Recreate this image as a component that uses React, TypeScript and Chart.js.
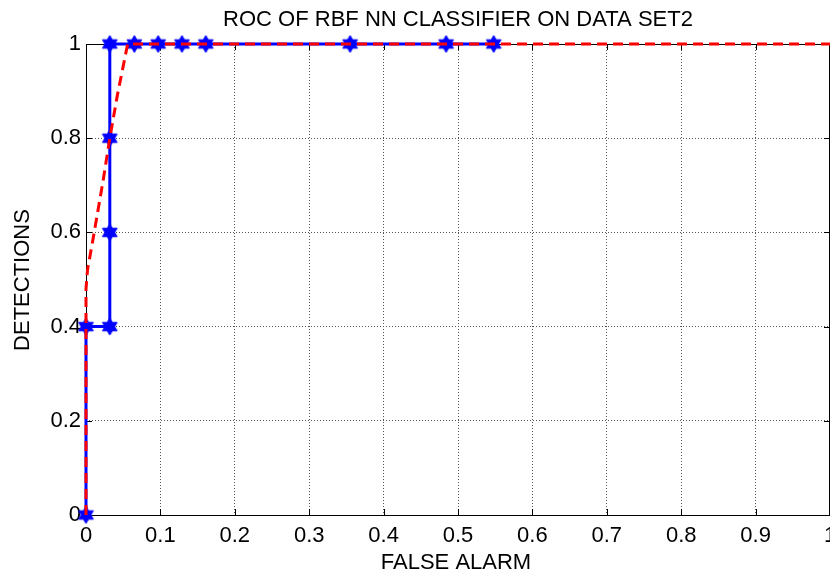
import React, { useEffect, useRef } from 'react';
import { Chart, registerables } from 'chart.js';

Chart.register(...registerables);

const titleText = 'ROC OF RBF NN CLASSIFIER ON DATA SET2';
const xAxisLabel = 'FALSE ALARM';
const yAxisLabel = 'DETECTIONS';

const xTickValues = [0, 0.1, 0.2, 0.3, 0.4, 0.5, 0.6, 0.7, 0.8, 0.9, 1];
const xTickLabels = ['0', '0.1', '0.2', '0.3', '0.4', '0.5', '0.6', '0.7', '0.8', '0.9', '1'];
const yTickValues = [0, 0.2, 0.4, 0.6, 0.8, 1];
const yTickLabels = ['0', '0.2', '0.4', '0.6', '0.8', '1'];

// Empirical ROC (blue, hexagram markers)
const rocX = [0, 0, 0.032, 0.032, 0.032, 0.032, 0.065, 0.097, 0.129, 0.161, 0.355, 0.484, 0.548];
const rocY = [0, 0.4, 0.4, 0.6, 0.8, 1, 1, 1, 1, 1, 1, 1, 1];

// Fitted ROC (red dashed)
const fitX = [0, 0, 0.002, 0.011, 0.023, 0.032, 0.042, 0.056, 1];
const fitY = [0, 0.48, 0.52, 0.6, 0.71, 0.8, 0.89, 1, 1];

const FONT = '"Liberation Sans", Arial, sans-serif';

function makeHexagram(r: number, color: string): HTMLCanvasElement {
  const s = Math.ceil(r * 2 + 4);
  const c = document.createElement('canvas');
  c.width = s;
  c.height = s;
  const g = c.getContext('2d')!;
  const cx = s / 2;
  const cy = s / 2;
  const tri = (rot: number) => {
    g.beginPath();
    for (let i = 0; i < 3; i++) {
      const a = rot + (i * 2 * Math.PI) / 3;
      const px = cx + r * Math.cos(a);
      const py = cy + r * Math.sin(a);
      if (i === 0) g.moveTo(px, py);
      else g.lineTo(px, py);
    }
    g.closePath();
  };
  g.fillStyle = color;
  g.strokeStyle = color;
  g.lineWidth = 1;
  tri(-Math.PI / 2);
  g.fill();
  g.stroke();
  tri(Math.PI / 2);
  g.fill();
  g.stroke();
  return c;
}

export default function App() {
  const ref = useRef<HTMLCanvasElement | null>(null);

  useEffect(() => {
    if (!ref.current) return;
    const marker = makeHexagram(8.5, '#0000ff');

    const decor = {
      id: 'decor',
      beforeDatasetsDraw(chart: any) {
        const { ctx, chartArea } = chart;
        const { left, right, top, bottom } = chartArea;
        const xs = chart.scales.x;
        const ys = chart.scales.y;
        ctx.save();
        ctx.strokeStyle = '#000';
        ctx.lineWidth = 1;
        ctx.beginPath();
        ctx.rect(Math.round(left) + 0.5, Math.round(top) + 0.5, Math.round(right) - Math.round(left) - 1, Math.round(bottom) - Math.round(top));
        ctx.stroke();
        ctx.beginPath();
        xTickValues.forEach((v) => {
          const px = Math.round(xs.getPixelForValue(v)) + 0.5;
          ctx.moveTo(px, bottom);
          ctx.lineTo(px, bottom - 6);
          ctx.moveTo(px, top);
          ctx.lineTo(px, top + 6);
        });
        yTickValues.forEach((v) => {
          const py = Math.round(ys.getPixelForValue(v)) + 0.5;
          ctx.moveTo(left, py);
          ctx.lineTo(left + 6, py);
          ctx.moveTo(right, py);
          ctx.lineTo(right - 6, py);
        });
        ctx.stroke();
        ctx.restore();
      },
      afterDraw(chart: any) {
        const { ctx } = chart;
        ctx.save();
        ctx.fillStyle = '#000';
        ctx.textAlign = 'center';
        ctx.textBaseline = 'middle';
        ctx.font = `22px ${FONT}`;
        ctx.fillText(titleText, 458, 20);
        ctx.fillText(xAxisLabel, 456, 563);
        ctx.translate(23, 280);
        ctx.rotate(-Math.PI / 2);
        ctx.fillText(yAxisLabel, 0, 0);
        ctx.restore();
      },
    };

    const chart = new Chart(ref.current, {
      type: 'line',
      data: {
        datasets: [
          {
            label: 'Fitted ROC',
            data: fitX.map((x, i) => ({ x, y: fitY[i] })),
            borderColor: '#ff0000',
            borderWidth: 3,
            borderDash: [10, 6],
            pointRadius: 0,
            tension: 0,
            fill: false,
            clip: false as any,
            order: 0,
          },
          {
            label: 'ROC',
            data: rocX.map((x, i) => ({ x, y: rocY[i] })),
            borderColor: '#0000ff',
            borderWidth: 3,
            pointStyle: marker as any,
            pointRadius: 8,
            pointBackgroundColor: '#0000ff',
            tension: 0,
            fill: false,
            clip: false as any,
            order: 1,
          },
        ],
      },
      options: {
        animation: false,
        responsive: false,
        maintainAspectRatio: false,
        layout: { autoPadding: false, padding: { top: 44, left: 0, right: 0, bottom: 0 } },
        plugins: {
          legend: { display: false },
          tooltip: { enabled: false },
          title: { display: false },
        },
        scales: {
          x: {
            type: 'linear',
            min: 0,
            max: 1,
            afterBuildTicks: (scale: any) => {
              scale.ticks = xTickValues.map((v) => ({ value: v }));
            },
            afterFit: (scale: any) => {
              scale.height = 58;
              scale.paddingLeft = 0;
              scale.paddingRight = 0;
            },
            ticks: {
              autoSkip: false,
              maxRotation: 0,
              padding: 8,
              color: '#000',
              font: { family: FONT, size: 22 },
              callback: (v: any) => {
                const i = xTickValues.findIndex((t) => Math.abs(t - Number(v)) < 1e-6);
                return i >= 0 ? xTickLabels[i] : '';
              },
            },
            grid: { color: '#555', lineWidth: 1, drawTicks: false },
            border: { display: false, dash: [1, 2] },
          },
          y: {
            type: 'linear',
            min: 0,
            max: 1,
            afterBuildTicks: (scale: any) => {
              scale.ticks = yTickValues.map((v) => ({ value: v }));
            },
            afterFit: (scale: any) => {
              scale.width = 86;
              scale.paddingTop = 0;
              scale.paddingBottom = 0;
            },
            ticks: {
              autoSkip: false,
              padding: 5,
              color: '#000',
              font: { family: FONT, size: 22 },
              callback: (v: any) => {
                const i = yTickValues.findIndex((t) => Math.abs(t - Number(v)) < 1e-6);
                return i >= 0 ? yTickLabels[i] : '';
              },
            },
            grid: { color: '#555', lineWidth: 1, drawTicks: false },
            border: { display: false, dash: [1, 2] },
          },
        },
      },
      plugins: [decor],
    });
    return () => chart.destroy();
  }, []);

  return (
    <div style={{ position: 'fixed', left: 0, top: 0, width: 830, height: 573, background: '#fff' }}>
      <canvas ref={ref} width={830} height={573} style={{ width: 830, height: 573, display: 'block' }} />
    </div>
  );
}
